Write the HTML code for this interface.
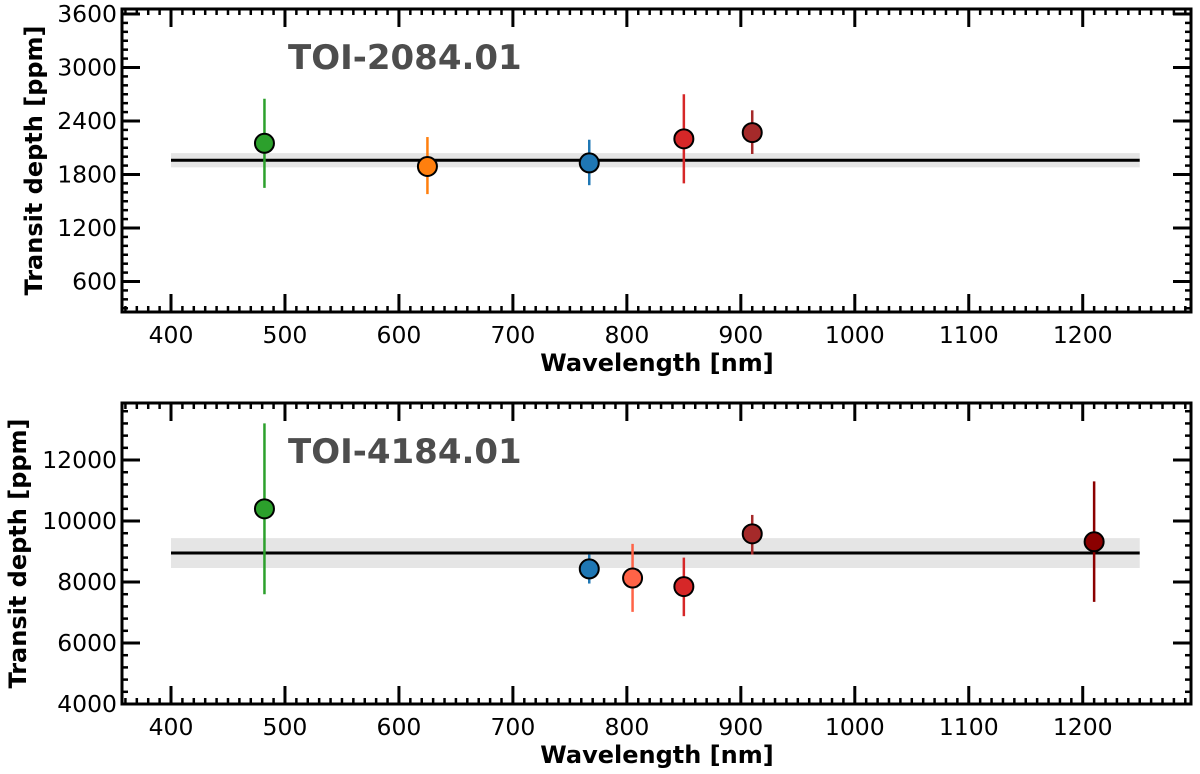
<!DOCTYPE html>
<html><head><meta charset="utf-8"><style>
html,body{margin:0;padding:0;background:#fff}
svg{display:block;font-family:"DejaVu Sans","Liberation Sans",sans-serif}
</style></head><body>
<svg id="chart" width="1200" height="774" viewBox="0 0 1200 774" xmlns="http://www.w3.org/2000/svg"></svg>
<script>
// Top panel data (TOI-2084.01)
const topWl = [482, 625, 767, 850, 910];
const topDepth = [2150, 1890, 1930, 2200, 2270];
const topErrHi = [2650, 2220, 2190, 2700, 2520];
const topErrLo = [1650, 1580, 1680, 1700, 2030];
const topColors = ["#2ca02c", "#ff7f0e", "#1f77b4", "#d62728", "#a52a2a"];
const topFit = [1960];
const topFitErr = [80];
const topYTicks = [600, 1200, 1800, 2400, 3000, 3600];
// Bottom panel data (TOI-4184.01)
const botWl = [482, 767, 805, 850, 910, 1210];
const botDepth = [10400, 8430, 8130, 7850, 9580, 9320];
const botErrHi = [13200, 8900, 9250, 8800, 10200, 11300];
const botErrLo = [7600, 7950, 7020, 6880, 8900, 7350];
const botColors = ["#2ca02c", "#1f77b4", "#ff6347", "#d62728", "#a52a2a", "#8b0000"];
const botFit = [8950];
const botFitErr = [490];
const botYTicks = [4000, 6000, 8000, 10000, 12000];
const xTicks = [400, 500, 600, 700, 800, 900, 1000, 1100, 1200];

const svg = document.getElementById('chart');
const NS = 'http://www.w3.org/2000/svg';
function mk(tag, attrs, parent) {
  const e = document.createElementNS(NS, tag);
  for (const k in attrs) e.setAttribute(k, attrs[k]);
  (parent || svg).appendChild(e);
  return e;
}

function panel(cfg) {
  const g = mk('g', {});
  
  
  const L = 122, R = 1191, T = cfg.top, B = cfg.bottom;
  const xmin = 357, xmax = 1295;
  const sx = v => L + (v - xmin) / (xmax - xmin) * (R - L);
  const sy = v => B - (v - cfg.ymin) / (cfg.ymax - cfg.ymin) * (B - T);
  const band = mk('rect', {x: sx(400), y: sy(cfg.fit[0] + cfg.fitErr[0]), width: sx(1250) - sx(400), height: sy(cfg.fit[0] - cfg.fitErr[0]) - sy(cfg.fit[0] + cfg.fitErr[0]), fill: '#e5e5e5'}, g);
  
  
  const fl = mk('line', {x1: sx(400), x2: sx(1250), y1: sy(cfg.fit[0]), y2: sy(cfg.fit[0]), stroke: '#000', 'stroke-width': 3}, g);
  
  
  const t = mk('text', {x: 288, y: T + 60, 'font-size': 34, 'font-weight': 'bold', fill: '#4d4d4d'}, g);
  t.textContent = cfg.title;
  
  
  for (let i = 0; i < cfg.wl.length; i++) {
    const eb = mk('line', {x1: sx(cfg.wl[i]), x2: sx(cfg.wl[i]), y1: sy(cfg.hi[i]), y2: sy(cfg.lo[i]), stroke: cfg.colors[i], 'stroke-width': 2.5}, g);
    
    
    const c = mk('circle', {cx: sx(cfg.wl[i]), cy: sy(cfg.d[i]), r: 9.5, fill: cfg.colors[i], stroke: '#000', 'stroke-width': 2}, g);
    
    
  }
  const tk = mk('g', {stroke: '#000'}, g);
  
  
  for (let v = 360; v <= 1290; v += 10) {
    const x = sx(v);
    const major = v % 100 === 0 && v >= 400 && v <= 1200;
    const len = major ? 18 : 6, w = major ? 3 : 2.5;
    mk('line', {x1: x, x2: x, y1: B, y2: B - len, 'stroke-width': w}, tk);
    mk('line', {x1: x, x2: x, y1: T, y2: T + len, 'stroke-width': w}, tk);
  }
  for (let v = Math.ceil(cfg.ymin / cfg.minor) * cfg.minor; v <= cfg.ymax; v += cfg.minor) {
    const y = sy(v);
    const major = cfg.yticks.includes(v);
    const len = major ? 18 : 6, w = major ? 3 : 2.5;
    mk('line', {x1: L, x2: L + len, y1: y, y2: y, 'stroke-width': w}, tk);
    mk('line', {x1: R, x2: R - len, y1: y, y2: y, 'stroke-width': w}, tk);
  }
  cfg.yticks.forEach(v => {
    const tl = mk('text', {x: L - 5, y: sy(v) + 8, 'font-size': 23.5, 'text-anchor': 'end'}, g);
    tl.textContent = v;
    
    
  });
  xTicks.forEach(v => {
    const tl = mk('text', {x: sx(v), y: B + 31, 'font-size': 23.5, 'text-anchor': 'middle'}, g);
    tl.textContent = v;
    
    
  });
  const fr = mk('rect', {x: L, y: T, width: R - L, height: B - T, fill: 'none', stroke: '#000', 'stroke-width': 3}, g);
  
  
  const xl = mk('text', {x: 657, y: B + 59, 'font-size': 24, 'font-weight': 'bold', 'text-anchor': 'middle'}, g);
  xl.textContent = 'Wavelength [nm]';
  
  
  const cy = (T + B) / 2;
  const yl = mk('text', {x: 0, y: 0, 'font-size': 24, 'font-weight': 'bold', 'text-anchor': 'middle', transform: `translate(${cfg.ylx},${cy}) rotate(-90)`}, g);
  yl.textContent = 'Transit depth [ppm]';
  
  
}

panel({name: 'panel-toi-2084', title: 'TOI-2084.01', top: 9, bottom: 312, ymin: 258, ymax: 3656, minor: 100,
  yticks: topYTicks, wl: topWl, d: topDepth, hi: topErrHi, lo: topErrLo, colors: topColors, fit: topFit, fitErr: topFitErr, ylx: 42});
panel({name: 'panel-toi-4184', title: 'TOI-4184.01', top: 403, bottom: 704, ymin: 4000, ymax: 13870, minor: 400,
  yticks: botYTicks, wl: botWl, d: botDepth, hi: botErrHi, lo: botErrLo, colors: botColors, fit: botFit, fitErr: botFitErr, ylx: 26});
</script>
</body></html>
